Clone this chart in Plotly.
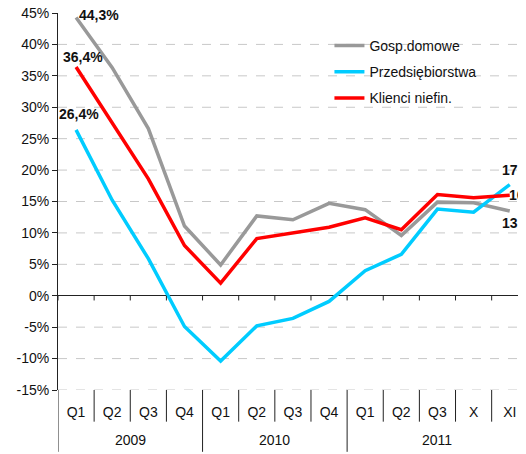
import plotly.graph_objects as go

# categories
quarters = ["Q1", "Q2", "Q3", "Q4", "Q1", "Q2", "Q3", "Q4", "Q1", "Q2", "Q3", "X", "XI"]
years = ["2009", "2010", "2011"]
year_sizes = [4, 4, 5]

# series values (% y/y)
gosp = [44.3, 36.3, 26.6, 11.1, 4.9, 12.7, 12.1, 14.7, 13.7, 9.6, 14.9, 14.8, 13.5]
przeds = [26.4, 15.2, 5.9, -4.9, -10.4, -4.8, -3.6, -0.9, 4.0, 6.6, 13.8, 13.3, 17.7]
klienci = [36.4, 27.5, 18.6, 8.0, 2.0, 9.1, 10.0, 10.9, 12.4, 10.5, 16.1, 15.6, 16.0]

ytick_vals = list(range(-15, 50, 5))

FONT = "Liberation Sans, Arial, sans-serif"
x = list(range(len(quarters)))

series = [
    ("Gosp.domowe", gosp, "#999999"),
    ("Przedsiębiorstwa", przeds, "#00CCFF"),
    ("Klienci niefin.", klienci, "#FF0000"),
]

fig = go.Figure()
for name, vals, col in series:
    fig.add_trace(
        go.Scatter(x=x, y=vals, mode="lines", name=name, legendgroup=name,
                   line=dict(color=col, width=3.5))
    )

# dashed gridlines (none at 0 and at the top)
shapes = []
for v in ytick_vals:
    if v in (0, 45):
        continue
    shapes.append(dict(type="line", xref="paper", yref="y", x0=0, x1=1, y0=v, y1=v,
                       line=dict(color="#C8C8C8", width=1, dash="dash"), layer="below"))

# zero line tick marks + category separators below the plot
for k in range(-1, len(quarters) - 1):
    b = k + 0.5
    shapes.append(dict(type="line", xref="x", yref="y", x0=b, x1=b, y0=0, y1=-0.75,
                       line=dict(color="#222222", width=1)))
year_bounds = [-0.5]
acc = -0.5
for n in year_sizes[:-1]:
    acc += n
    year_bounds.append(acc)
for k in range(-1, len(quarters) - 1):
    b = k + 0.5
    long_sep = b in year_bounds
    shapes.append(dict(type="line", xref="x", yref="paper", x0=b, x1=b, y0=0,
                       y1=-0.164 if long_sep else -0.084,
                       line=dict(color="#222222", width=1)))

# year labels
annotations = []
start = 0
for yr, n in zip(years, year_sizes):
    annotations.append(dict(x=start + (n - 1) / 2, y=-0.133, xref="x", yref="paper",
                            text=yr, showarrow=False, yanchor="middle",
                            font=dict(size=14, color="#111111", family=FONT)))
    start += n

# value labels at first and last points
label_style = {
    ("Gosp.domowe", 0): dict(xanchor="left", xshift=1, yshift=2),
    ("Klienci niefin.", 0): dict(xanchor="center", xshift=7, yshift=10),
    ("Przedsiębiorstwa", 0): dict(xanchor="center", xshift=3, yshift=16),
    ("Przedsiębiorstwa", -1): dict(xanchor="left", xshift=-10, yshift=15),
    ("Klienci niefin.", -1): dict(xanchor="left", xshift=-3, yshift=0),
    ("Gosp.domowe", -1): dict(xanchor="left", xshift=-10, yshift=-12),
}
for name, vals, col in series:
    for idx in (0, -1):
        st = label_style[(name, idx)]
        annotations.append(dict(
            x=x[idx], y=vals[idx], xref="x", yref="y",
            text="<b>" + f"{vals[idx]:.1f}%".replace(".", ",") + "</b>",
            showarrow=False, yanchor="middle",
            font=dict(size=14, color="#111111", family=FONT), **st))

# page body has an 8px margin, so the figure is shifted by 8px; size accordingly
fig.update_layout(
    width=518, height=446,
    margin=dict(l=50, r=0, t=5, b=64, autoexpand=False),
    paper_bgcolor="white", plot_bgcolor="white",
    font=dict(family=FONT, size=14, color="#111111"),
    showlegend=True,
    legend=dict(x=0.58, y=0.955, xanchor="left", yanchor="top",
                bgcolor="rgba(0,0,0,0)", font=dict(size=14), tracegroupgap=5),
    xaxis=dict(range=[-0.5, 12.45], tickmode="array", tickvals=x, ticktext=quarters,
               showgrid=False, zeroline=False, showline=False, ticks="",
               ticklabelstandoff=12, tickfont=dict(size=14), automargin=False),
    yaxis=dict(range=[-15, 45], tickmode="array", tickvals=ytick_vals,
               ticktext=[f"{v}%" for v in ytick_vals],
               showgrid=False, zeroline=True, zerolinecolor="#222222", zerolinewidth=1,
               showline=True, linecolor="#222222", linewidth=1,
               ticks="outside", ticklen=5, tickcolor="#222222",
               ticklabeloverflow="allow",
               tickfont=dict(size=14), automargin=False),
    shapes=shapes,
    annotations=annotations,
)

fig.write_html("out.html")
